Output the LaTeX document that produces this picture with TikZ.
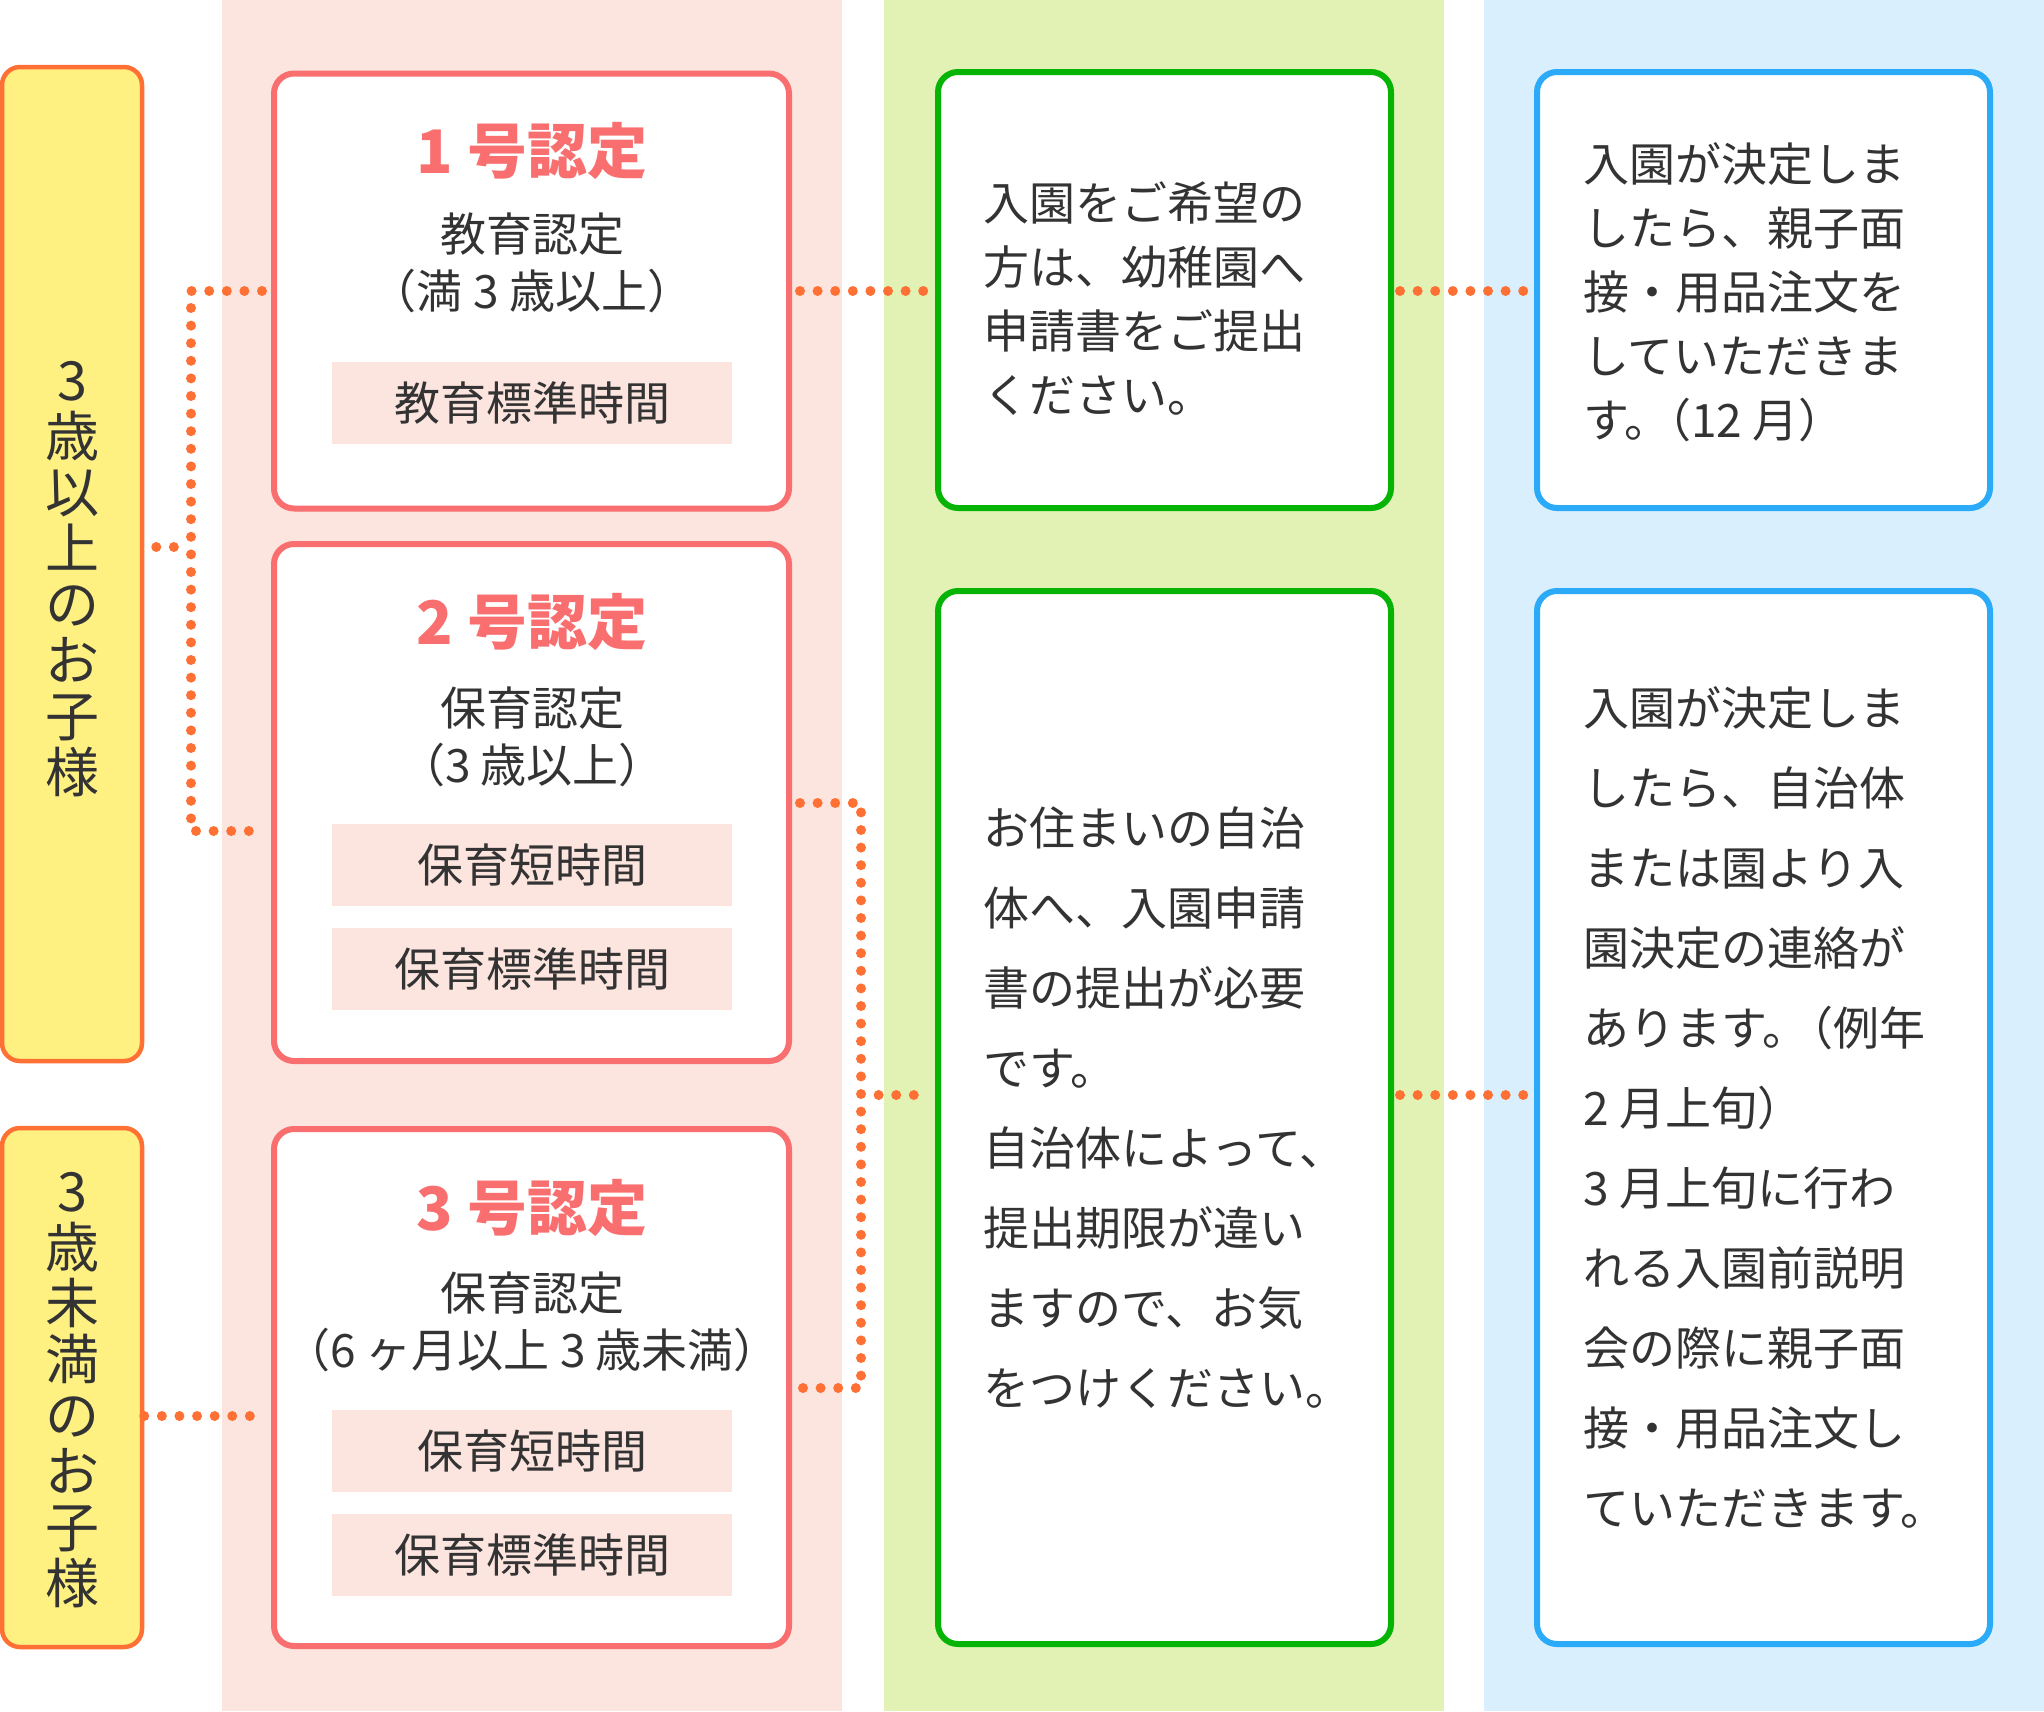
\documentclass[tikz,border=0pt]{standalone}
\usepackage{fontspec}
\setmainfont{Noto Sans CJK JP}
\definecolor{pinkbg}{HTML}{FCE4DF}
\definecolor{greenbg}{HTML}{E2F2B4}
\definecolor{bluebg}{HTML}{DAEFFD}
\definecolor{yfill}{HTML}{FFF082}
\definecolor{dotc}{HTML}{FF7034}
\definecolor{salmon}{HTML}{F96F6F}
\definecolor{gline}{HTML}{05B405}
\definecolor{bline}{HTML}{2BABF7}
\definecolor{textc}{HTML}{333333}
\begin{document}
\begin{tikzpicture}[x=1pt,y=-1pt,
  basebox/.style={draw, line width=6pt, rounded corners=20pt, fill=white, inner sep=0pt, rectangle},
  yellowbox/.style={draw=dotc, fill=yfill, line width=4.5pt, rounded corners=18pt, inner sep=0pt, minimum width=140pt},
  pinkbox/.style={basebox, draw=salmon, minimum width=515pt},
  greenbox/.style={basebox, draw=gline, minimum width=453pt},
  bluebox/.style={basebox, draw=bline, minimum width=453pt},
  timetag/.style={fill=pinkbg, minimum width=400pt, minimum height=82pt, inner sep=0pt, text=textc, font=\fontsize{46}{46}\selectfont},
  titletext/.style={text=salmon, inner sep=0pt, font=\fontsize{60}{60}\selectfont\bfseries},
  subtext/.style={text=textc, inner sep=0pt, font=\fontsize{46}{46}\selectfont},
  vertext/.style={text=textc, inner sep=0pt, align=center, font=\fontsize{54}{56}\selectfont},
  bodytext/.style={text=textc, inner sep=0pt, align=left, anchor=west},
  dotline/.style={draw=dotc, line width=10pt, line cap=round, line join=round, dash pattern=on 0pt off 17.6pt},
]
\useasboundingbox (0,0) rectangle (2044,1711);
% column backgrounds
\fill[pinkbg] (222,0) rectangle (842,1711);
\fill[greenbg] (884,0) rectangle (1444,1711);
\fill[bluebg] (1484,0) rectangle (2044,1711);

% yellow boxes
\node[yellowbox, minimum height=994pt] (y1) at (72,564) {};
\node[yellowbox, minimum height=519pt] (y2) at (72,1387.5) {};
\node[vertext] (y1t) at (72,579) {3\\歳\\以\\上\\の\\お\\子\\様};
\node[vertext] (y2t) at (72,1390) {3\\歳\\未\\満\\の\\お\\子\\様};

% pink boxes
\node[pinkbox, minimum height=435pt] (p1) at (531.5,291) {};
\node[pinkbox, minimum height=517pt] (p2) at (531.5,802.5) {};
\node[pinkbox, minimum height=517pt] (p3) at (531.5,1387.5) {};

\node[titletext] (p1h) at (532,151) {1 号認定};
\node[subtext] (p1a) at (532,234) {教育認定};
\node[subtext] (p1b) at (532,291) {（満 3 歳以上）};
\node[timetag] (p1c) at (532,403) {教育標準時間};

\node[titletext] (p2h) at (532,622) {2 号認定};
\node[subtext] (p2a) at (532,708) {保育認定};
\node[subtext] (p2b) at (532,765) {（3 歳以上）};
\node[timetag] (p2c) at (532,865) {保育短時間};
\node[timetag] (p2d) at (532,969) {保育標準時間};

\node[titletext] (p3h) at (532,1208) {3 号認定};
\node[subtext] (p3a) at (532,1293) {保育認定};
\node[subtext] (p3b) at (532,1350) {（6 ヶ月以上 3 歳未満）};
\node[timetag] (p3c) at (532,1451) {保育短時間};
\node[timetag] (p3d) at (532,1555) {保育標準時間};

% green and blue boxes
\node[greenbox, minimum height=436pt] (g1) at (1164.5,290) {};
\node[greenbox, minimum height=1053pt] (g2) at (1164.5,1117.5) {};
\node[bluebox, minimum height=436pt] (b1) at (1763.5,290) {};
\node[bluebox, minimum height=1053pt] (b2) at (1763.5,1117.5) {};

\node[bodytext, font=\fontsize{46}{64}\selectfont] (g1t) at (983,299) {入園をご希望の\\方は、幼稚園へ\\申請書をご提出\\ください。};
\node[bodytext, font=\fontsize{46}{64}\selectfont] (b1t) at (1583,292.5) {入園が決定しま\\したら、親子面\\接・用品注文を\\していただきま\\す。\kern-0.55em（12 月）};
\node[bodytext, font=\fontsize{46}{80}\selectfont] (g2t) at (983,1108) {お住まいの自治\\体へ、入園申請\\書の提出が必要\\です。\\自治体によって、\\提出期限が違い\\ますので、お気\\をつけください。};
\node[bodytext, font=\fontsize{46}{80}\selectfont] (b2t) at (1583,1107) {入園が決定しま\\したら、自治体\\または園より入\\園決定の連絡が\\あります。\kern-0.45em（例年\\2 月上旬）\\3 月上旬に行わ\\れる入園前説明\\会の際に親子面\\接・用品注文し\\ていただきます。};

% connectors
\coordinate (ja) at (191,547);
\coordinate (ja1) at (191,291);
\coordinate (ja2) at (191,831);
\coordinate (jb) at (861,1095);
\coordinate (jb1) at (861,803);
\coordinate (jb2) at (861,1388);
\coordinate (jc) at (200,1416);

\draw[dotline, shorten <=12pt, shorten >=17pt] (y1.east |- ja) -- (ja);
\draw[dotline, shorten <=9pt, shorten >=9pt] (p1.west) -- (ja1) -- (ja2) -- (p2.west |- ja2);
\draw[dotline, shorten >=7pt] (y2.east |- jc) -- (p3.west |- jc);
\draw[dotline, shorten <=8pt, shorten >=8pt] (p2.east |- jb1) -- (jb1) -- (jb2) -- (p3.east |- jb2);
\draw[dotline, shorten <=17.6pt, shorten >=6pt] (jb) -- (g2.west |- jb);
\draw[dotline, shorten <=8pt, shorten >=8pt] (p1.east) -- (g1.west |- p1.east);
\draw[dotline, shorten <=6pt, shorten >=6pt] (g1.east |- p1.east) -- (b1.west |- p1.east);
\draw[dotline, shorten <=6pt, shorten >=6pt] (g2.east |- jb) -- (b2.west |- jb);
\end{tikzpicture}
\end{document}
